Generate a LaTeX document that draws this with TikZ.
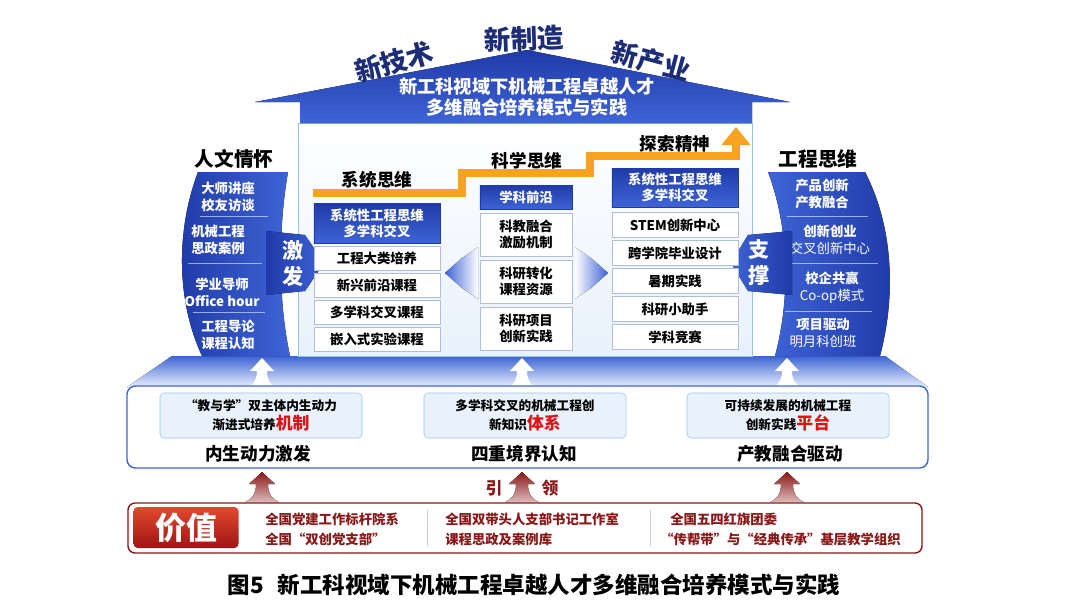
\documentclass[tikz,border=0pt]{standalone}
\usepackage{fontspec}
\setmainfont{Noto Sans CJK SC}
\usetikzlibrary{arrows.meta, positioning, calc}
\definecolor{deepblue}{RGB}{32,58,168}
\definecolor{midblue}{RGB}{62,100,214}
\definecolor{paleblue}{RGB}{232,241,252}
\definecolor{edgeblue}{RGB}{150,196,232}
\definecolor{boxedge}{RGB}{178,190,214}
\definecolor{stepor}{RGB}{246,164,32}
\definecolor{navy}{RGB}{28,44,118}
\definecolor{wine}{RGB}{138,24,24}
\definecolor{hotred}{RGB}{222,18,18}
\newcommand{\fsz}[2]{\fontsize{#1pt}{#2pt}\selectfont}

\begin{document}
\begin{tikzpicture}[x=0.025cm, y=-0.025cm,
    hdbox/.style={rectangle, draw=deepblue, top color=deepblue, bottom color=midblue,
                  text=white, font=\fsz{9.5}{11.5}\bfseries, align=center, inner sep=0pt},
    itembox/.style={rectangle, draw=boxedge, fill=white, font=\fsz{9.5}{11.5}\bfseries,
                    align=center, inner sep=0pt},
    moonitem/.style={text=white, font=\fsz{9.5}{12}, align=center, inner sep=0pt},
    sidetitle/.style={font=\fsz{14}{16}\bfseries},
    steplabel/.style={font=\fsz{12.5}{14}\bfseries},
    bigword/.style={font=\fsz{19}{20}\bfseries, text=navy, inner sep=0pt},
    fatarrow/.style={font=\fsz{15}{18.5}\bfseries, text=white, align=center},
    goalbox/.style={rectangle, rounded corners=3pt, draw=edgeblue, fill=paleblue,
                    minimum width=5.05cm, minimum height=1.125cm, font=\fsz{9}{13.5}\bfseries, align=center},
    goallabel/.style={font=\fsz{12.5}{14}\bfseries},
    honor/.style={anchor=west, text=wine, font=\fsz{9.5}{11}\bfseries, inner sep=0pt},
    sepline/.style={white, opacity=0.55, line width=0.5pt},
]
    \useasboundingbox (0,0) rectangle (1080,608);
    \fill[white] (0,0) rectangle (1080,608);

    % platform under the panel
    \fill[top color=midblue, bottom color=paleblue] (172,356) -- (885,356) -- (928,387) -- (127,387) -- cycle;
    \foreach \x in {262,522,787}
        \fill[white] (\x,358) -- (\x+12,371) -- (\x+5,371) .. controls (\x+5,379) and (\x+8,384) .. (\x+13,387)
            -- (\x-13,387) .. controls (\x-8,384) and (\x-5,379) .. (\x-5,371) -- (\x-12,371) -- cycle;

    % central panel and roof
    \draw[edgeblue, top color=white, bottom color=paleblue] (298,123) rectangle (752,356);
    \fill[top color=deepblue, bottom color=midblue] (255,102) -- (527,50) -- (790,102) -- (752,102)
        -- (752,123) -- (300,123) -- (300,102) -- cycle;
    \node[text=white, font=\fsz{13}{15.6}\bfseries, align=center, inner sep=0pt] (title) at (527,97)
        {新工科视域下机械工程卓越人才\\多维融合培养模式与实践};
    \node[bigword, rotate=16] (tech) at (394,62) {新技术};
    \node[bigword, rotate=2] (make) at (524,39) {新制造};
    \node[bigword, rotate=-15] (indu) at (651,61) {新产业};

    % left crescent
    \node[sidetitle] (human) at (234,159) {人文情怀};
    \fill[left color=deepblue, right color=midblue] (198,172) .. controls (176,230) and (176,300) .. (202,356)
        -- (290,356) .. controls (278,300) and (278,230) .. (288,172) -- cycle;
    \node[moonitem, font=\fsz{9.5}{12}\bfseries] (h1) at (228,197) {大师讲座\\校友访谈};
    \node[moonitem, font=\fsz{9.5}{12}\bfseries] (h2) at (218,240) {机械工程\\思政案例};
    \node[moonitem, font=\fsz{9.5}{12}\bfseries] (h3) at (222,292) {学业导师\\Office hour};
    \node[moonitem, font=\fsz{9.5}{12}\bfseries] (h4) at (228,335) {工程导论\\课程认知};
    \draw[sepline] (200,216) -- (268,216);
    \draw[sepline] (188,263) -- (262,263);
    \draw[sepline] (193,312) -- (265,312);

    % right crescent
    \node[sidetitle] (engin) at (818,159) {工程思维};
    \fill[left color=midblue, right color=deepblue] (768,172) .. controls (790,230) and (790,300) .. (775,356)
        -- (880,356) .. controls (895,300) and (895,230) .. (865,172) -- cycle;
    \node[moonitem, font=\fsz{9.5}{12}\bfseries] (e1) at (822,194) {产品创新\\产教融合};
    \node[moonitem] (e2) at (830,240) {\textbf{创新创业}\\交叉创新中心};
    \node[moonitem] (e3) at (832,288) {\textbf{校企共赢}\\Co-op模式};
    \node[moonitem] (e4) at (823,333) {\textbf{项目驱动}\\明月科创班};
    \draw[sepline] (787,216) -- (868,216);
    \draw[sepline] (783,263) -- (878,263);
    \draw[sepline] (785,311) -- (872,311);

    % side arrows
    \fill[left color=deepblue, right color=midblue] (266,231) -- (305,235) -- (324,263) -- (305,291) -- (266,295) -- cycle;
    \fill[right color=deepblue, left color=midblue] (792,231) -- (748,235) -- (731,263) -- (748,291) -- (792,295) -- cycle;
    \node[fatarrow] (spur) at (293,263) {激\\发};
    \node[fatarrow] (prop) at (759,263) {支\\撑};

    % staircase
    \draw[stepor, line width=0.2cm, -{Triangle[width=0.7cm, length=0.45cm]}]
        (313,193) -- (462,193) -- (462,173) -- (590,173) -- (590,156) -- (736,156) -- (736,127);
    \node[steplabel] (sys) at (377,180) {系统思维};
    \node[steplabel] (sci) at (527,161) {科学思维};
    \node[steplabel] (exp) at (675,144) {探索精神};

    % left column
    \node[hdbox, minimum width=3.15cm, minimum height=1cm] (lhead) at (377,223) {系统性工程思维\\多学科交叉};
    \foreach \txt [count=\i] in {工程大类培养, 新兴前沿课程, 多学科交叉课程, 嵌入式实验课程}
        \node[itembox, minimum width=3.15cm, minimum height=0.6cm] (l\i) at (377,231+27*\i) {\txt};

    % middle column
    \node[hdbox, minimum width=2.3cm, minimum height=0.6cm] (mhead) at (526,197) {学科前沿};
    \foreach \txt [count=\i] in {{科教融合\\激励机制}, {科研转化\\课程资源}, {科研项目\\创新实践}}
        \node[itembox, minimum width=2.3cm, minimum height=1.075cm] (m\i) at (526,187.5+47*\i) {\txt};

    % right column
    \node[hdbox, minimum width=3.15cm, minimum height=0.975cm] (rhead) at (675,187.5) {系统性工程思维\\多学科交叉};
    \foreach \txt [count=\i] in {STEM创新中心, 跨学院毕业设计, 暑期实践, 科研小助手, 学科竞赛}
        \node[itembox, minimum width=3.15cm, minimum height=0.625cm] (r\i) at (675,197+28*\i) {\txt};

    % fading arrows out of the middle column
    \fill[left color=midblue, right color=white] (445,273) -- (462,258) .. controls (468,254) and (474,250) .. (478,247)
        -- (478,299) .. controls (474,296) and (468,292) .. (462,288) -- cycle;
    \fill[right color=midblue, left color=white] (608,273) -- (591,258) .. controls (585,254) and (579,250) .. (575,247)
        -- (575,299) .. controls (579,296) and (585,292) .. (591,288) -- cycle;

    % goals
    \draw[midblue, line width=1pt, fill=white, rounded corners=6pt] (127,386) rectangle (928,468);
    \node[goalbox] (g1) at (261,415.5) {“教与学”双主体内生动力\\渐进式培养{\fsz{12}{14}\color{hotred}机制}};
    \node[goalbox] (g2) at (525,415.5) {多学科交叉的机械工程创\\新知识{\fsz{12}{14}\color{hotred}体系}};
    \node[goalbox] (g3) at (788,415.5) {可持续发展的机械工程\\创新实践{\fsz{12}{14}\color{hotred}平台}};
    \node[goallabel] (g1l) at (258,454) {内生动力激发};
    \node[goallabel] (g2l) at (524,454) {四重境界认知};
    \node[goallabel] (g3l) at (790,454) {产教融合驱动};

    % values
    \foreach \x in {262,522,787}
        \fill[top color=wine, bottom color=wine!30!white] (\x,472) -- (\x+13,484) -- (\x+6,484)
            .. controls (\x+6,494) and (\x+10,499) .. (\x+17,502) -- (\x-17,502)
            .. controls (\x-10,499) and (\x-6,494) .. (\x-6,484) -- (\x-13,484) -- cycle;
    \node[text=wine, font=\fsz{12}{14}\bfseries] (lead1) at (494,488) {引};
    \node[text=wine, font=\fsz{12}{14}\bfseries] (lead2) at (550,488) {领};
    \draw[wine, line width=1pt, fill=white, rounded corners=5pt] (128,503) rectangle (922,553);
    \node[rectangle, rounded corners=3pt, top color={rgb,255:red,226;green,72;blue,46}, bottom color={rgb,255:red,160;green,20;blue,20},
          minimum width=2.625cm, minimum height=1.025cm, text=white, font=\fsz{22}{24}\bfseries] (value) at (186,527.5) {价值};
    \node[honor] (v1) at (265,519) {全国党建工作标杆院系};
    \node[honor] (v2) at (265,539) {全国“双创党支部”};
    \node[honor] (v3) at (445,519) {全国双带头人支部书记工作室};
    \node[honor] (v4) at (445,539) {课程思政及案例库};
    \node[honor] (v5) at (670,519) {全国五四红旗团委};
    \node[honor] (v6) at (660,539) {“传帮带”与“经典传承”基层教学组织};
    \draw[gray!40] (427,510) -- (427,546);
    \draw[gray!40] (650,510) -- (650,546);

    \node[font=\fsz{16}{18}\bfseries] (caption) at (534,585) {图5\hspace{0.6em}新工科视域下机械工程卓越人才多维融合培养模式与实践};
\end{tikzpicture}
\end{document}
